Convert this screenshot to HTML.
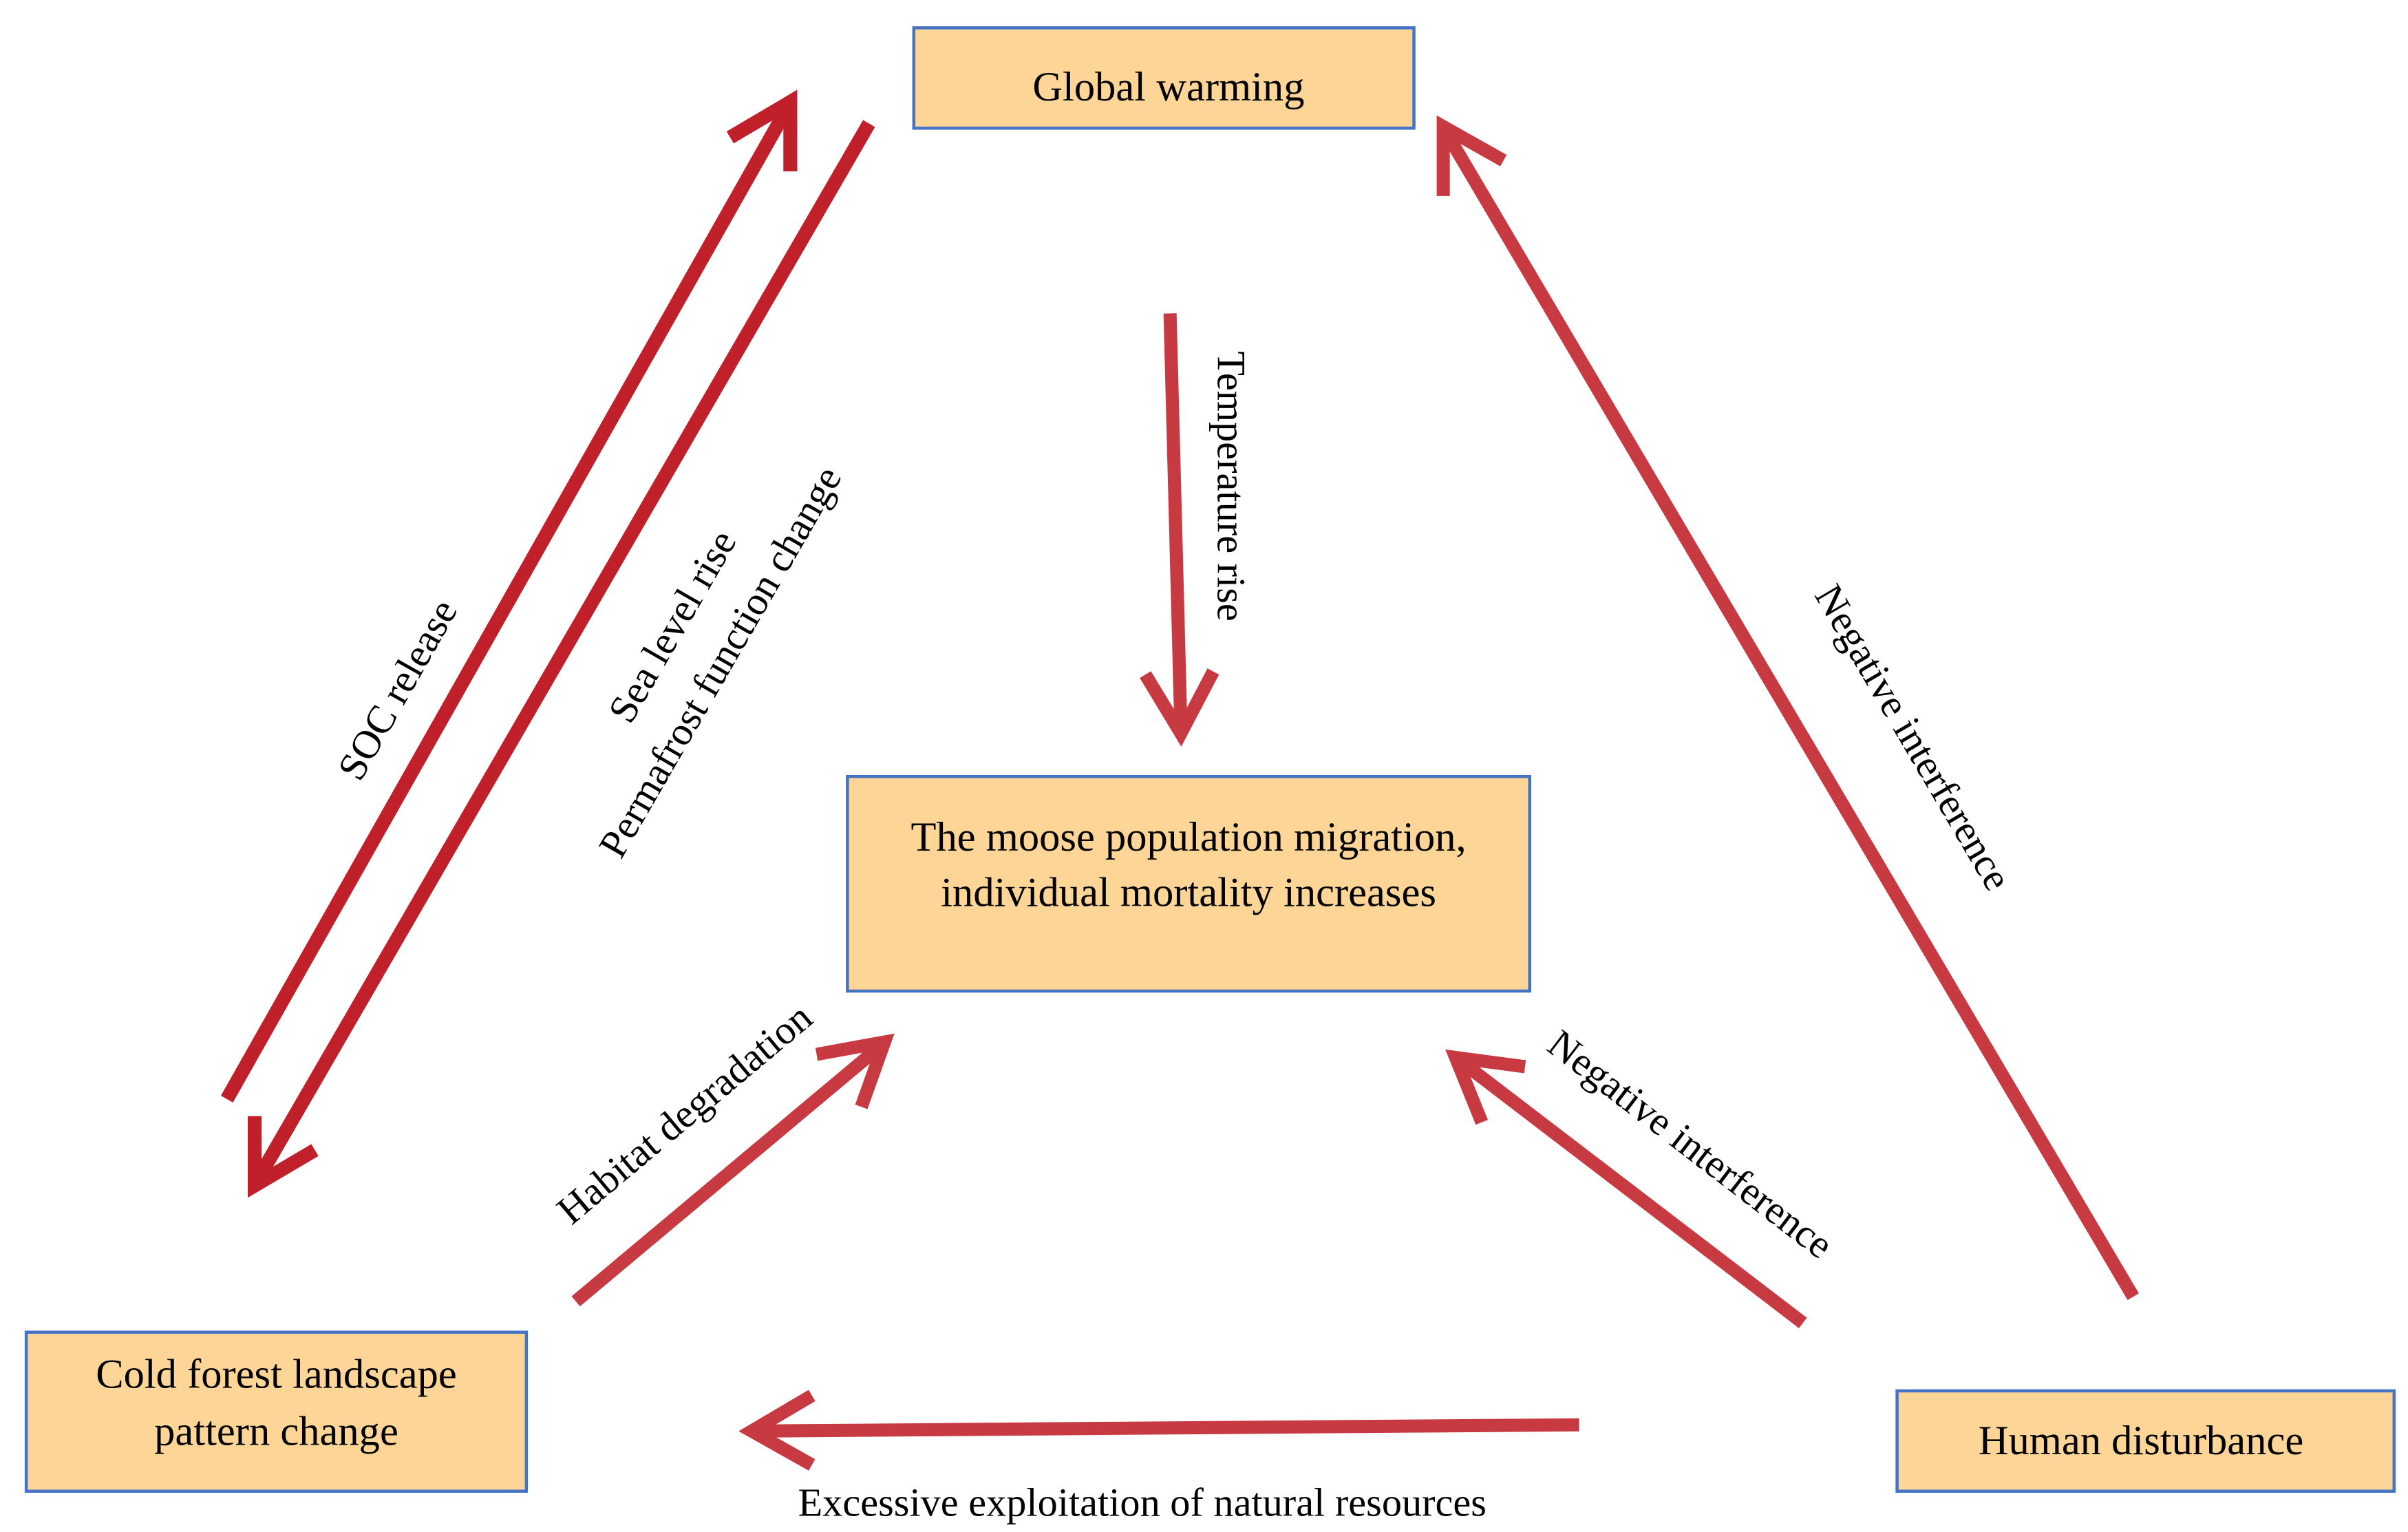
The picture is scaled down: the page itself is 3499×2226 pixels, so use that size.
<!DOCTYPE html>
<html><head><meta charset="utf-8"><style>
html,body{margin:0;padding:0;background:#fff;}
svg{display:block;}
text{font-family:"Liberation Serif",serif;fill:#000;}
</style></head><body>
<svg width="3499" height="2226" viewBox="0 0 1560 992.4" xmlns="http://www.w3.org/2000/svg">
<g fill="#fdd597" stroke="#4472c4" stroke-width="2">
<rect x="592" y="18" width="324" height="65"/>
<rect x="549" y="503" width="442" height="139"/>
<rect x="17" y="863" width="324" height="103"/>
<rect x="1229" y="901" width="322" height="65"/>
</g>
<g font-size="27" text-anchor="middle">
<text x="757" y="65">Global warming</text>
<text x="770" y="551">The moose population migration,</text>
<text x="770" y="587">individual mortality increases</text>
<text x="179" y="899">Cold forest landscape</text>
<text x="179" y="936">pattern change</text>
<text x="1387" y="942">Human disturbance</text>
</g>
<g fill="none" stroke-linejoin="miter" stroke-linecap="butt">
<g stroke="#c0202a" stroke-width="9">
<line x1="147" y1="712" x2="510" y2="70"/>
<polyline points="473,89 512,66 512,111"/>
<line x1="563" y1="80" x2="167" y2="764"/>
<polyline points="204,745 165,768 165,723"/>
</g>
<g stroke="#c83a42" stroke-width="8.5">
<line x1="758" y1="203" x2="765" y2="471"/>
<polyline points="786,435 765,475 742,437"/>
<line x1="1382" y1="840" x2="937" y2="86"/>
<polyline points="935,127 935,82 974,104"/>
<line x1="373" y1="843" x2="570" y2="678"/>
<polyline points="529,683 573,675 558,717"/>
<line x1="1168" y1="857" x2="947" y2="688"/>
<polyline points="960,727 943,685 988,691"/>
<line x1="1023" y1="923" x2="491" y2="927"/>
<polyline points="526,904 487,927 526,949"/>
</g>
</g>
<g font-size="26" text-anchor="middle">
<text transform="translate(265,451) rotate(-60.5)">SOC release</text>
<text transform="translate(443,410) rotate(-60)">Sea level rise</text>
<text transform="translate(474,433) rotate(-60)">Permafrost function change</text>
<text transform="translate(789,315) rotate(90)">Temperature rise</text>
<text transform="translate(1232,482) rotate(59.5)">Negative interference</text>
<text transform="translate(449,728) rotate(-40)">Habitat degradation</text>
<text transform="translate(1090,748) rotate(37.5)">Negative interference</text>
<text x="740" y="982">Excessive exploitation of natural resources</text>
</g>
</svg>
</body></html>
